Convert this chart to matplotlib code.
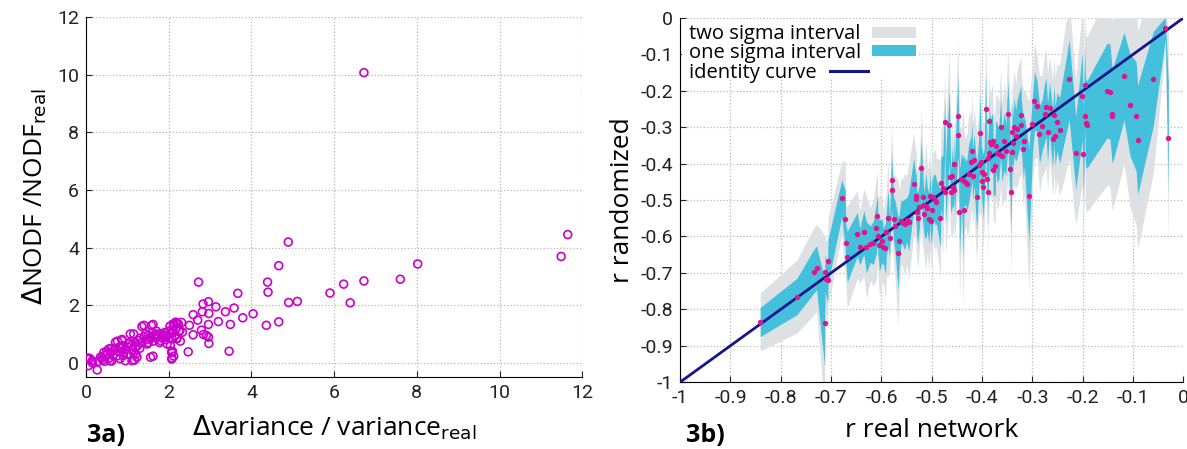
import matplotlib
matplotlib.use("Agg")
import matplotlib.pyplot as plt
from matplotlib.patches import Rectangle
import numpy as np

# ---- panel 3a: relative change of NODF vs relative change of variance ----
var_ratio = [0.02, 0.06, 0.15, 0.27, 0.39, 0.43, 0.51, 0.55, 0.58, 0.67, 0.71, 0.75, 0.79, 0.87, 0.91,
             0.95, 1.03, 1.07, 1.11, 1.15, 1.19, 1.23, 1.27, 1.35, 1.44, 1.48, 1.58, 1.56, 1.64, 1.72,
             1.80, 1.88, 1.96, 2.04, 2.08, 2.08, 2.12, 2.20, 2.08,
             0.35, 0.45, 0.50, 0.60, 0.62, 0.70, 0.80, 0.85, 0.90, 0.95, 1.00, 1.05, 1.10, 1.12, 1.20,
             1.25, 1.30, 1.30, 1.35, 1.40, 1.45, 1.50, 1.50, 1.55, 1.60, 1.62, 1.65, 1.70, 1.70, 1.75,
             1.78, 1.82, 1.85, 1.90, 1.92, 1.95, 2.00, 2.00, 2.05, 2.10, 2.15, 2.18, 2.25, 2.20, 1.40,
             1.62, 1.15, 1.20, 0.90, 1.00, 0.55, 0.65, 0.30, 0.40, 0.45, 1.17, 0.82, 0.62, 1.62, 0.76,
             0.87, 0.09, 0.04, 0.15,
             6.72, 11.65, 11.49, 8.02, 7.60, 6.72, 6.23, 6.39, 5.90, 5.11, 4.90, 4.89, 4.66, 4.66, 4.39,
             4.40, 4.36, 4.04, 3.79, 3.67, 3.58, 3.49, 3.46, 3.37, 3.20, 3.14, 2.96, 2.97, 2.96, 2.96,
             2.97, 2.83, 2.81, 2.79, 2.84, 2.91, 2.72, 2.70, 2.59, 2.59, 2.50, 2.47, 2.31, 2.33, 2.28,
             2.17, 2.12, 2.09, 2.03, 2.23, 2.11, 2.27, 2.19, 2.07, 2.07]
nodf_ratio = [0.14, -0.10, 0.07, -0.25, 0.18, 0.36, 0.30, 0.48, 0.07, 0.42, 0.71, 0.24, 0.53, 0.77, 0.36,
              0.07, 0.65, 1.00, 0.07, 1.00, 0.53, 0.19, 0.77, 1.26, 1.00, 0.65, 1.29, 0.19, 0.88, 1.00,
              0.77, 0.94, 0.65, 0.59, 0.36, 0.16, 1.29, 1.37, 0.84,
              0.20, 0.25, 0.40, 0.35, 0.50, 0.45, 0.40, 0.55, 0.60, 0.45, 0.55, 0.70, 0.60, 0.45, 0.70,
              0.60, 0.85, 0.50, 0.70, 0.90, 0.80, 0.95, 0.70, 0.85, 1.05, 0.75, 0.95, 0.85, 1.10, 0.95,
              0.70, 1.00, 0.85, 1.05, 0.80, 0.95, 1.10, 0.85, 1.00, 1.15, 0.95, 1.20, 1.10, 0.85, 1.30,
              1.33, 0.35, 0.30, 0.25, 0.30, 0.15, 0.25, 0.05, 0.10, 0.05, 0.09, 0.14, 0.06, 0.23, 0.75,
              0.81, 0.15, 0.17, 0.00,
              10.07, 4.45, 3.69, 3.43, 2.90, 2.84, 2.73, 2.08, 2.42, 2.13, 2.09, 4.19, 3.37, 1.42, 2.80,
              2.45, 1.30, 1.70, 1.56, 2.41, 1.90, 1.33, 0.40, 1.77, 1.43, 1.94, 2.12, 1.71, 1.33, 0.89,
              0.67, 2.04, 1.77, 1.13, 0.98, 0.95, 2.80, 1.48, 1.67, 0.97, 1.30, 0.38, 1.40, 1.06, 0.75,
              1.41, 0.23, 0.40, 1.27, 1.35, 1.35, 1.12, 0.83, 0.36, 0.13]

# ---- panel 3b: r of real network vs mean r of randomized networks ----
r_real = [-0.841, -0.768, -0.735, -0.729, -0.713, -0.712, -0.710, -0.707, -0.706,
          -0.679, -0.672, -0.671, -0.668, -0.648, -0.643, -0.635, -0.630, -0.622, -0.616, -0.610,
          -0.608, -0.607, -0.604, -0.599, -0.596, -0.592, -0.590, -0.587, -0.584, -0.580, -0.579,
          -0.576, -0.573, -0.567, -0.565, -0.561, -0.558, -0.554, -0.550, -0.546, -0.536, -0.532,
          -0.531, -0.530, -0.528, -0.525, -0.521, -0.518, -0.517, -0.515, -0.512, -0.509, -0.506,
          -0.503, -0.502, -0.500, -0.497, -0.493, -0.491, -0.483, -0.482, -0.478, -0.474, -0.473,
          -0.465, -0.463, -0.462, -0.459, -0.457, -0.456, -0.455, -0.448, -0.447, -0.445, -0.441,
          -0.437, -0.436, -0.433, -0.430, -0.427, -0.422, -0.420, -0.419, -0.416, -0.411, -0.407,
          -0.404, -0.402, -0.401, -0.400, -0.398, -0.396, -0.393, -0.390, -0.389, -0.388, -0.387,
          -0.386, -0.385, -0.383, -0.379, -0.378, -0.374, -0.373, -0.370, -0.367, -0.363, -0.361,
          -0.356, -0.353, -0.349, -0.344, -0.343, -0.341, -0.340, -0.338, -0.337, -0.333, -0.331,
          -0.323, -0.322, -0.318, -0.316, -0.307, -0.300, -0.296, -0.291, -0.286, -0.281, -0.276,
          -0.273, -0.270, -0.266, -0.260, -0.257, -0.255, -0.251, -0.246, -0.227, -0.214, -0.201,
          -0.199, -0.196, -0.195, -0.194, -0.192, -0.152, -0.146, -0.142, -0.141, -0.118, -0.106,
          -0.094, -0.091, -0.060, -0.036, -0.030]
r_rand = [-0.835, -0.765, -0.697, -0.686, -0.837, -0.699, -0.716, -0.720, -0.668,
          -0.495, -0.552, -0.617, -0.656, -0.594, -0.628, -0.589, -0.630, -0.621, -0.617, -0.576,
          -0.544, -0.598, -0.624, -0.612, -0.628, -0.633, -0.589, -0.550, -0.604, -0.446, -0.472,
          -0.552, -0.572, -0.646, -0.612, -0.558, -0.563, -0.567, -0.554, -0.561, -0.455, -0.488,
          -0.497, -0.534, -0.550, -0.519, -0.413, -0.491, -0.513, -0.539, -0.517, -0.523, -0.552,
          -0.490, -0.557, -0.527, -0.492, -0.499, -0.505, -0.550, -0.453, -0.466, -0.286, -0.479,
          -0.294, -0.438, -0.479, -0.433, -0.465, -0.402, -0.472, -0.270, -0.321, -0.534, -0.442,
          -0.527, -0.447, -0.453, -0.457, -0.429, -0.396, -0.365, -0.433, -0.389, -0.492, -0.405,
          -0.316, -0.396, -0.447, -0.424, -0.465, -0.429, -0.250, -0.442, -0.385, -0.477, -0.282,
          -0.371, -0.341, -0.347, -0.339, -0.417, -0.407, -0.352, -0.371, -0.374, -0.299, -0.378,
          -0.338, -0.365, -0.263, -0.415, -0.479, -0.369, -0.312, -0.343, -0.300, -0.323, -0.306,
          -0.266, -0.295, -0.361, -0.337, -0.488, -0.292, -0.228, -0.242, -0.319, -0.296, -0.263,
          -0.244, -0.314, -0.247, -0.332, -0.266, -0.323, -0.286, -0.309, -0.169, -0.371, -0.215,
          -0.373, -0.185, -0.270, -0.288, -0.293, -0.200, -0.202, -0.263, -0.268, -0.160, -0.240,
          -0.270, -0.335, -0.167, -0.028, -0.330]
r_sigma = [0.040, 0.050, 0.060, 0.060, 0.120, 0.050, 0.050, 0.060, 0.060,
           0.050, 0.080, 0.050, 0.070, 0.060, 0.050, 0.060, 0.070, 0.050, 0.060, 0.070,
           0.060, 0.050, 0.070, 0.060, 0.050, 0.070, 0.060, 0.080, 0.050, 0.080, 0.070,
           0.060, 0.070, 0.100, 0.070, 0.060, 0.060, 0.070, 0.060, 0.080, 0.070, 0.060,
           0.070, 0.060, 0.070, 0.060, 0.080, 0.070, 0.060, 0.060, 0.090, 0.060, 0.070,
           0.070, 0.060, 0.080, 0.060, 0.070, 0.060, 0.080, 0.070, 0.090, 0.070, 0.090,
           0.100, 0.070, 0.060, 0.080, 0.060, 0.080, 0.070, 0.110, 0.080, 0.120, 0.070,
           0.140, 0.070, 0.060, 0.070, 0.080, 0.070, 0.080, 0.070, 0.070, 0.090, 0.070,
           0.110, 0.070, 0.080, 0.070, 0.090, 0.070, 0.100, 0.070, 0.080, 0.100, 0.080,
           0.070, 0.080, 0.070, 0.080, 0.070, 0.080, 0.070, 0.080, 0.070, 0.080, 0.070,
           0.080, 0.070, 0.090, 0.080, 0.120, 0.070, 0.080, 0.070, 0.080, 0.070, 0.080,
           0.080, 0.070, 0.080, 0.070, 0.130, 0.080, 0.080, 0.070, 0.080, 0.070, 0.080,
           0.080, 0.080, 0.070, 0.080, 0.080, 0.080, 0.080, 0.090, 0.110, 0.100, 0.120,
           0.120, 0.110, 0.120, 0.120, 0.120, 0.130, 0.130, 0.130, 0.130, 0.120, 0.140,
           0.150, 0.150, 0.130, 0.030, 0.150]
identity_x = [-1, 0]
r_ticks = [-1, -0.9, -0.8, -0.7, -0.6, -0.5, -0.4, -0.3, -0.2, -0.1, 0]
r_tick_labels = ['-1', '-0.9', '-0.8', '-0.7', '-0.6', '-0.5', '-0.4', '-0.3', '-0.2', '-0.1', '0']
legend_labels = ['two sigma interval', 'one sigma interval', 'identity curve']

label_font = ['Open Sans', 'DejaVu Sans']
tick_font = ['Liberation Sans Narrow', 'Roboto', 'DejaVu Sans']
grey = '#dde1e4'
blue = '#45c0dc'
navy = '#13158c'

fig = plt.figure(figsize=(11.87, 4.49), dpi=100)

# left panel
ax1 = fig.add_axes([0.0725, 0.160, 0.418, 0.802])
ax1.scatter(var_ratio, nodf_ratio, s=32, facecolors='none', edgecolors='#cc00cc', linewidths=1.2, zorder=3)
ax1.set_xlim(0, 12)
ax1.set_ylim(-0.5, 12)
ax1.set_xticks(np.arange(0, 13, 2))
ax1.set_yticks(np.arange(0, 13, 2))
ax1.set_xlabel(r'$\Delta$variance / variance$_{\mathrm{real}}$', fontsize=19, family=label_font, labelpad=8)
ax1.set_ylabel(r'$\Delta$NODF /NODF$_{\mathrm{real}}$', fontsize=19, family=label_font, labelpad=6)
fig.text(0.073, 0.015, '3a)', fontsize=18, fontweight='bold', family=label_font)

# right panel
ax2 = fig.add_axes([0.573, 0.149, 0.424, 0.811])
order = np.argsort(r_real, kind='stable')
xs = np.array(r_real)[order]
ys = np.array(r_rand)[order]
ss = np.array(r_sigma)[order]
ax2.fill_between(xs, ys - 2 * ss, ys + 2 * ss, color=grey, lw=0, zorder=1)
ax2.fill_between(xs, ys - ss, ys + ss, color=blue, lw=0, zorder=2)
ax2.plot(identity_x, identity_x, color=navy, lw=2, zorder=3)
ax2.scatter(r_real, r_rand, s=15, color='#e0148c', zorder=4, lw=0)
ax2.set_xlim(-1, 0)
ax2.set_ylim(-1, 0)
ax2.set_xticks(r_ticks)
ax2.set_xticklabels(r_tick_labels)
ax2.set_yticks(r_ticks)
ax2.set_yticklabels(r_tick_labels)
ax2.set_xlabel('r real network', fontsize=19, family=label_font, labelpad=8)
ax2.set_ylabel('r randomized', fontsize=19, family=label_font, labelpad=4)
fig.text(0.578, 0.015, '3b)', fontsize=18, fontweight='bold', family=label_font)

# legend: text first, key right after it
ax2.add_patch(Rectangle((0.003, 0.835), 0.47, 0.163, transform=ax2.transAxes,
                        facecolor='white', edgecolor='none', zorder=5))
text_y = [0.957, 0.905, 0.850]
for lab, ty in zip(legend_labels, text_y):
    ax2.text(0.018, ty, lab, transform=ax2.transAxes, fontsize=14.5, family=label_font,
             va='center', ha='left', zorder=6)
ax2.add_patch(Rectangle((0.382, 0.944), 0.087, 0.030, transform=ax2.transAxes,
                        facecolor=grey, edgecolor='none', zorder=6))
ax2.add_patch(Rectangle((0.382, 0.896), 0.087, 0.031, transform=ax2.transAxes,
                        facecolor=blue, edgecolor='none', zorder=6))
ax2.plot([0.298, 0.374], [0.853, 0.853], transform=ax2.transAxes, color=navy, lw=2.2, zorder=6)

for ax in (ax1, ax2):
    ax.grid(True, linestyle=':', color='#b8b8b8', lw=0.9)
    ax.set_axisbelow(True)
    ax.spines['top'].set_visible(False)
    ax.spines['right'].set_visible(False)
    ax.tick_params(direction='in', length=4, labelsize=14, colors='#222222', pad=5)
    for lab in ax.get_xticklabels() + ax.get_yticklabels():
        lab.set_family(tick_font)

fig.savefig('out.png', dpi=100)
